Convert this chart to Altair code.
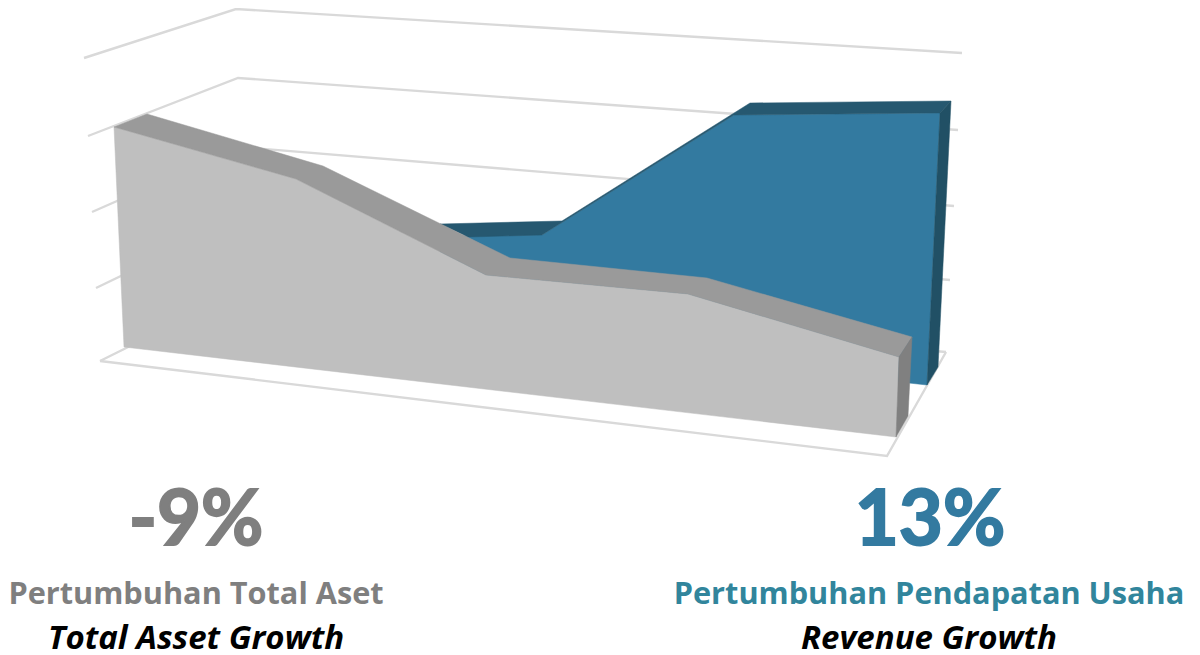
import altair as alt
import pandas as pd

# Outlines (picture pixels), drawn through linear x / y scales.
grid_x = [[84, 236, 962], [88, 238, 958], [92, 240, 954], [96, 241, 950], [100, 243, 946]]
grid_y = [[58, 9, 53], [136, 78, 130], [212, 147, 206], [288, 218, 280], [361, 290, 352]]
floor_x = [100, 887, 946]
floor_y = [361, 456, 352]

rev_front_x = [440, 542, 734, 940, 927, 700, 440]
rev_front_y = [236, 235, 115, 113, 385, 360, 300]
rev_top_x = [440, 562, 750, 951, 940, 734, 542, 468]
rev_top_y = [224, 221, 103, 101, 113, 115, 235, 237]
rev_side_x = [940, 951, 938, 927]
rev_side_y = [113, 101, 367, 385]

asset_front_x = [114, 296, 486, 688, 899, 896, 124]
asset_front_y = [127, 179, 275, 294, 357, 437, 347]
asset_top_x = [114, 147, 323, 510, 707, 912, 899, 688, 486, 296]
asset_top_y = [127, 114, 166, 258, 278, 337, 357, 294, 275, 179]
asset_side_x = [899, 912, 908, 896]
asset_side_y = [357, 337, 416, 437]

labels = ["-9%", "13%", "Pertumbuhan Total Aset", "Pertumbuhan Pendapatan Usaha",
          "Total Asset Growth", "Revenue Growth"]
label_x = [196, 930, 196, 929, 196, 929]
label_y = [545, 545, 604, 604, 649, 649]
label_size = [76, 76, 30.7, 30.7, 33, 33]
label_color = ["#7F7F7F", "#337AA0", "#7F7F7F", "#31859C", "#000000", "#000000"]
label_style = ["normal", "normal", "normal", "normal", "italic", "italic"]
label_font = ["Lato", "Lato", "Open Sans", "Open Sans", "Open Sans", "Open Sans"]
label_thicken = [2.0, 2.0, 0, 0, 0, 0]

W, H = 1184, 647
X = alt.X("x:Q", scale=alt.Scale(domain=[8, 8 + W]), axis=None)
Y = alt.Y("y:Q", scale=alt.Scale(domain=[8 + H, 8]), axis=None)


def poly(xs, ys, color):
    df = pd.DataFrame({"x": xs, "y": ys, "i": range(len(xs))})
    return alt.Chart(df).mark_line(
        interpolate="linear-closed", fill=color, stroke=color, strokeWidth=0.5
    ).encode(x=X, y=Y, order="i:Q")


def path(xs, ys):
    df = pd.DataFrame({"x": xs, "y": ys, "i": range(len(xs))})
    return alt.Chart(df).mark_line(color="#D9D9D9", strokeWidth=2.4).encode(x=X, y=Y, order="i:Q")


layers = [path(a, b) for a, b in zip(grid_x, grid_y)]
layers.append(path(floor_x, floor_y))
layers += [
    poly(rev_front_x, rev_front_y, "#337AA0"),
    poly(rev_top_x, rev_top_y, "#265870"),
    poly(rev_side_x, rev_side_y, "#215065"),
    poly(asset_front_x, asset_front_y, "#BFBFBF"),
    poly(asset_top_x, asset_top_y, "#9A9A9A"),
    poly(asset_side_x, asset_side_y, "#808080"),
]

for i, t in enumerate(labels):
    df = pd.DataFrame({"x": [label_x[i]], "y": [label_y[i]], "t": [t]})
    layers.append(
        alt.Chart(df).mark_text(
            font=label_font[i], fontWeight="bold", fontStyle=label_style[i], fontSize=label_size[i],
            color=label_color[i], align="center", baseline="alphabetic",
            stroke=label_color[i], strokeWidth=label_thicken[i],
        ).encode(x=X, y=Y, text="t:N")
    )

chart = (
    alt.layer(*layers)
    .properties(width=W, height=H, padding=0, background="white", autosize=alt.AutoSizeParams(type="none"))
    .configure_view(stroke=None)
)
chart.save("out.html", embed_options={"renderer": "svg", "actions": False})
